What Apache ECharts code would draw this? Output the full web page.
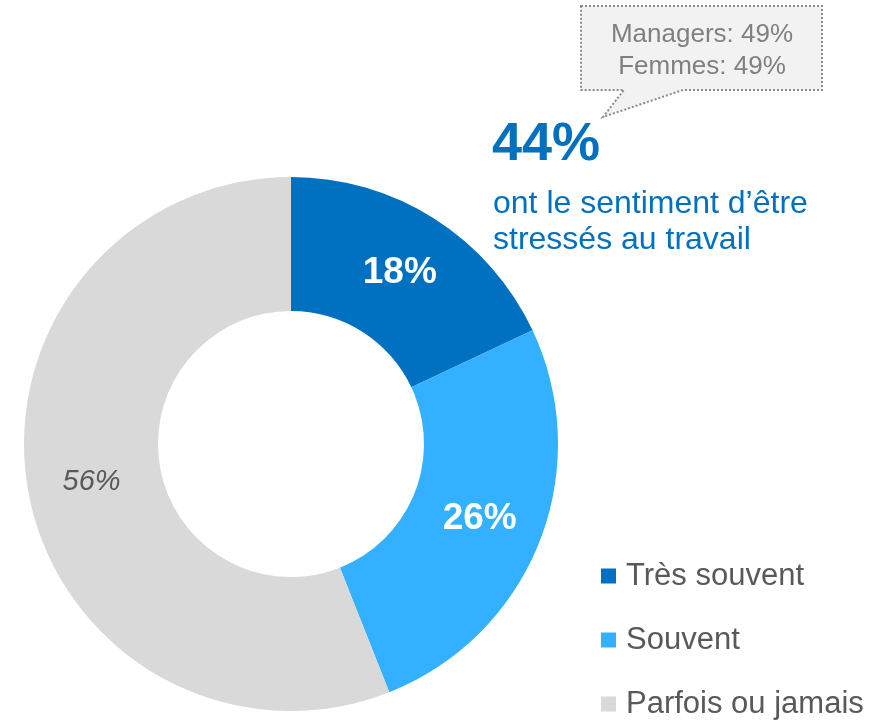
<!DOCTYPE html>
<html>
<head>
<meta charset="utf-8" />
<title></title>
<script src="https://cdn.jsdelivr.net/npm/echarts@6/dist/echarts.min.js"></script>
<style>
html, body { margin: 0; padding: 0; background: #ffffff; }
#chart { width: 892px; height: 724px; }
</style>
</head>
<body>
<div id="chart"></div>
<script type="text/javascript">
	// données
	var categories = [ 'Très souvent', 'Souvent', 'Parfois ou jamais' ];
	var values = [ 18, 26, 56 ];
	var colors = [ '#0070c0', '#33b0ff', '#d9d9d9' ];
	var headline = '44%';
	var subline = [ 'ont le sentiment d\u2019être', 'stressés au travail' ];
	var calloutLines = [ 'Managers: 49%', 'Femmes: 49%' ];

	var font = '"Liberation Sans", Arial, sans-serif';

	var pieData = categories.map(function(name, i) {
		var light = i == 2;
		return {
			name : name,
			value : values[i],
			itemStyle : { color : colors[i] },
			label : {
				color : light ? '#595959' : '#ffffff',
				fontWeight : light ? 'normal' : 'bold',
				fontStyle : light ? 'italic' : 'normal',
				fontSize : light ? 29 : 37
			}
		};
	});

	var myChart = echarts.init(document.getElementById('chart'));
	myChart.setOption({
		animation : false,
		textStyle : { fontFamily : font },
		legend : {
			orient : 'vertical',
			left : 596,
			top : 553,
			height : 200,
			icon : 'rect',
			itemWidth : 15,
			itemHeight : 15,
			itemGap : 28,
			textStyle : {
				fontSize : 31,
				color : '#595959',
				lineHeight : 36,
				padding : [ 0, 0, 0, 5 ],
				fontFamily : font
			},
			data : categories
		},
		graphic : [ {
			// bulle
			type : 'polygon',
			shape : {
				points : [ [ 581, 6 ], [ 822, 6 ], [ 822, 90 ], [ 683, 90 ],
						[ 603, 117 ], [ 624, 90 ], [ 581, 90 ] ]
			},
			style : {
				fill : '#f2f2f2',
				stroke : '#8c8c8c',
				lineWidth : 2,
				lineDash : [ 2, 2 ]
			}
		}, {
			type : 'text',
			style : {
				text : calloutLines[0],
				x : 702,
				y : 35,
				align : 'center',
				verticalAlign : 'middle',
				font : '26px ' + font,
				fill : '#808080'
			}
		}, {
			type : 'text',
			style : {
				text : calloutLines[1],
				x : 702,
				y : 67,
				align : 'center',
				verticalAlign : 'middle',
				font : '26px ' + font,
				fill : '#808080'
			}
		}, {
			type : 'text',
			style : {
				text : headline,
				x : 492,
				y : 145,
				verticalAlign : 'middle',
				font : 'bold 54px ' + font,
				fill : '#0070c0'
			}
		}, {
			type : 'text',
			style : {
				text : subline.join('\n'),
				x : 493,
				y : 186,
				lineHeight : 36,
				font : '32px ' + font,
				fill : '#0070c0'
			}
		} ],
		series : [ {
			type : 'pie',
			center : [ 291, 444 ],
			radius : [ 133, 267 ],
			startAngle : 90,
			clockwise : true,
			avoidLabelOverlap : false,
			label : {
				show : true,
				position : 'inside',
				formatter : '{c}%',
				fontFamily : font
			},
			labelLine : { show : false },
			emphasis : { disabled : true },
			data : pieData
		} ]
	});
</script>
</body>
</html>
